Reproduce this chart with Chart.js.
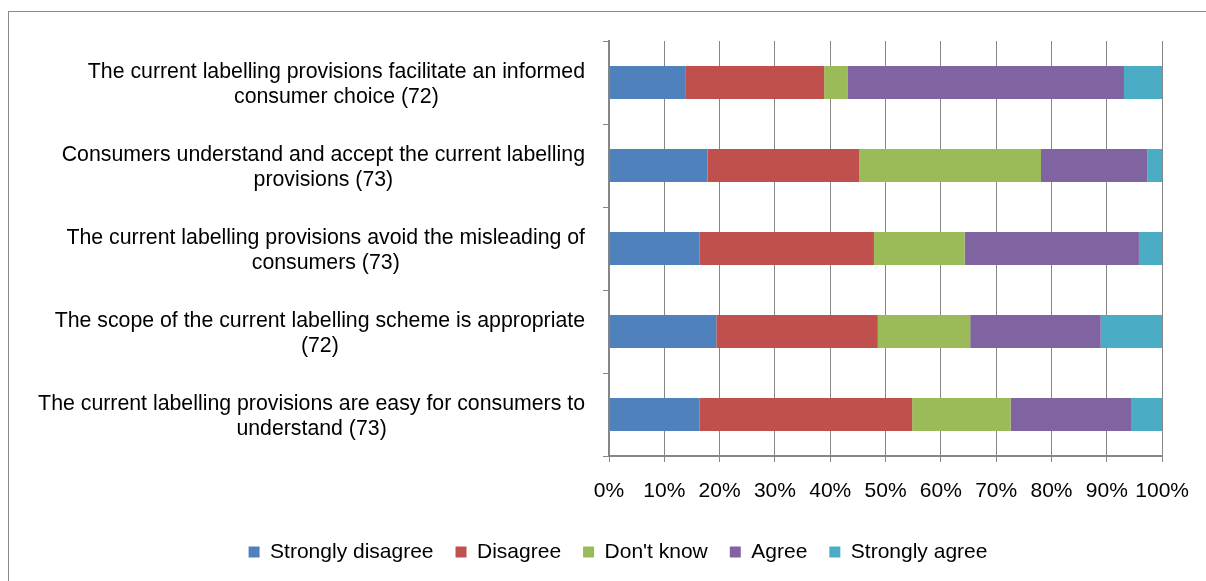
<!DOCTYPE html>
<html>
<head>
<meta charset="utf-8">
<title>Labelling provisions survey</title>
<script src="https://cdn.jsdelivr.net/npm/chart.js@4.4.1/dist/chart.umd.min.js"></script>
<style>
  html, body { margin: 0; padding: 0; background: #fff; overflow: hidden; }
  #frame { position: absolute; left: 0; top: 0; width: 1206px; height: 581px; }
  /* grey frame round the chart, its right and bottom edges run off the page */
  #frame::before {
    content: ""; position: absolute; left: 8px; top: 11px;
    width: 1220px; height: 600px; border: 1.5px solid #8a8a8a;
  }
  canvas { position: absolute; left: 0; top: 0; }
</style>
</head>
<body>
<div id="frame"><canvas id="chart" width="1206" height="581"></canvas></div>
<script>
// statements, top to bottom, with number of answers in brackets
const statements = [
  ["The current labelling provisions facilitate an informed", "consumer choice (72)"],
  ["Consumers understand and accept the current labelling", "provisions (73)"],
  ["The current labelling provisions avoid the misleading of", "consumers (73)"],
  ["The scope of the current labelling scheme is appropriate", "(72)"],
  ["The current labelling provisions are easy for consumers to", "understand (73)"]
];

// share of answers in %, each row adds up to 100
const stronglyDisagree = [13.9, 17.8, 16.4, 19.4, 16.4];
const disagree         = [25.0, 27.4, 31.5, 29.2, 38.4];
const dontKnow         = [4.2, 32.9, 16.4, 16.7, 17.8];
const agree            = [50.0, 19.2, 31.5, 23.6, 21.9];
const stronglyAgree    = [6.9, 2.7, 4.2, 11.1, 5.5];

const answerNames = ["Strongly disagree", "Disagree", "Don't know", "Agree", "Strongly agree"];
const answerColors = ["#4F81BD", "#C0504D", "#9BBB59", "#8064A2", "#4BACC6"];

const percentTicks = [0, 10, 20, 30, 40, 50, 60, 70, 80, 90, 100];

const FONT = "'Liberation Sans', Arial, sans-serif";
const AXIS_GREY = "#868686";

const series = [stronglyDisagree, disagree, dontKnow, agree, stronglyAgree];

// two-line statements: block sits right against the axis, lines centred on each other
const statementLabels = {
  id: "statementLabels",
  afterDraw(chart) {
    const ctx = chart.ctx;
    const yScale = chart.scales.y;
    const right = chart.chartArea.left - 24;
    ctx.save();
    ctx.font = "21.3px " + FONT;
    ctx.fillStyle = "#000";
    ctx.textAlign = "center";
    ctx.textBaseline = "middle";
    statements.forEach((lines, i) => {
      const widest = Math.max(...lines.map(l => ctx.measureText(l).width));
      const cx = right - widest / 2;
      const cy = yScale.getPixelForValue(i) + 2;
      const lh = 24.5;
      lines.forEach((line, k) => {
        ctx.fillText(line, cx, cy + (k - (lines.length - 1) / 2) * lh);
      });
    });
    ctx.restore();
  }
};

new Chart(document.getElementById("chart"), {
  type: "bar",
  data: {
    labels: statements,
    datasets: series.map((values, i) => ({
      label: answerNames[i],
      data: values,
      backgroundColor: answerColors[i],
      borderWidth: 0,
      barPercentage: 0.4,
      categoryPercentage: 1
    }))
  },
  options: {
    indexAxis: "y",
    responsive: false,
    animation: false,
    layout: {
      padding: { top: 41, left: 73, right: 43, bottom: 8.5 }
    },
    scales: {
      x: {
        stacked: true,
        min: 0,
        max: 100,
        afterBuildTicks: (scale) => {
          scale.ticks = percentTicks.map(v => ({ value: v }));
        },
        afterFit: (scale) => { scale.height = 63.5; },
        grid: { color: AXIS_GREY, lineWidth: 1, tickLength: 6 },
        border: { color: AXIS_GREY, width: 2 },
        ticks: {
          autoSkip: false,
          maxRotation: 0,
          padding: 17,
          color: "#000",
          font: { family: FONT, size: 21 },
          callback: (v) => v + "%"
        }
      },
      y: {
        stacked: true,
        afterFit: (scale) => { scale.width = 536; },
        grid: {
          offset: true,
          drawOnChartArea: false,
          drawTicks: true,
          tickLength: 6,
          color: AXIS_GREY
        },
        border: { color: AXIS_GREY, width: 2 },
        ticks: { display: false }
      }
    },
    plugins: {
      tooltip: { enabled: false },
      legend: {
        position: "bottom",
        labels: {
          boxWidth: 11,
          boxHeight: 11,
          padding: 22,
          color: "#000",
          font: { family: FONT, size: 21 }
        }
      }
    }
  },
  plugins: [statementLabels]
});
</script>
</body>
</html>
